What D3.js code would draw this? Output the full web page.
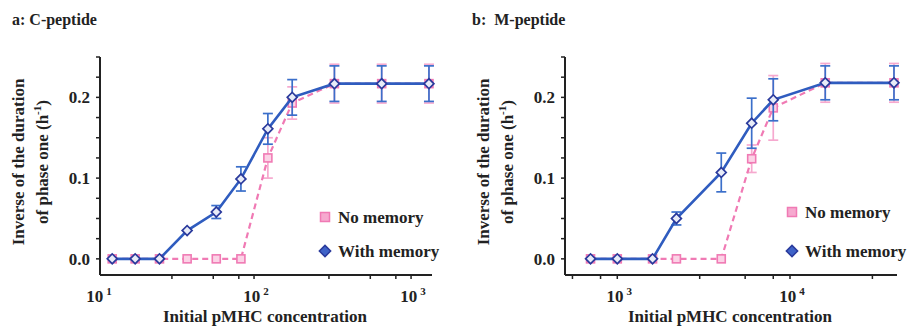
<!DOCTYPE html>
<html>
<head>
<meta charset="utf-8">
<script src="https://cdn.jsdelivr.net/npm/d3@7"></script>
<style>
  body { margin: 0; background: #fff; }
  svg text { font-family: "Liberation Serif", "DejaVu Serif", serif; font-weight: bold; fill: #222; }
</style>
</head>
<body>
<svg id="chart"></svg>
<script>
// ------------------------------------------------------------
// Two log-x panels: inverse duration of phase one vs pMHC.
// ------------------------------------------------------------

// Panel a: C-peptide
const concA = [12.5, 17.5, 25, 37.5, 57.5, 82.5, 122.5, 175, 325, 650, 1300];
const withMemA = [0, 0, 0, 0.035, 0.058, 0.099, 0.161, 0.200, 0.217, 0.217, 0.217];
const withMemErrA = [0, 0, 0, 0.002, 0.008, 0.015, 0.019, 0.022, 0.022, 0.022, 0.022];
const noMemA = [0, 0, 0, 0, 0, 0, 0.125, 0.193, 0.217, 0.217, 0.217];
const noMemErrA = [0, 0, 0, 0, 0, 0, 0.025, 0.02, 0.024, 0.024, 0.024];

// Panel b: M-peptide
const concB = [700, 1000, 1600, 2200, 4000, 6000, 8000, 16000, 40000];
const withMemB = [0, 0, 0, 0.050, 0.107, 0.168, 0.197, 0.218, 0.218];
const withMemErrB = [0, 0, 0, 0.008, 0.024, 0.031, 0.026, 0.021, 0.021];
const noMemB = [0, 0, 0, 0, 0, 0.124, 0.187, 0.218, 0.218];
const noMemErrB = [0, 0, 0, 0, 0, 0.017, 0.04, 0.024, 0.024];

// Tick labels
const yTickLabels = [0, 0.1, 0.2];
const xDecadesA = [1, 2, 3];
const xDecadesB = [3, 4];
const minorMantissa = [3, 5.5, 8];

const width = 909;
const height = 330;

const svg = d3.select("#chart")
  .attr("width", width)
  .attr("height", height);

const blue = "#2f5cbf";
const navy = "#2a3a9c";
const pink = "#f07ab4";
const pinkLight = "#f6a9cf";

// Build one panel.
function drawPanel(opt) {
  const g = svg.append("g");

  const x = d3.scaleLog().domain(opt.xDomain).range([opt.left, opt.right]);
  const y = d3.scaleLinear().domain([-0.02, 0.25]).range([275, 57]);

  // Panel title
  g.append("text")
    .attr("x", opt.titleX)
    .attr("y", 25)
    .attr("font-size", 16)
    .style("white-space", "pre")
    .text(opt.title);

  // Y axis line + ticks (every 0.025, outward)
  g.append("line")
    .attr("x1", opt.left).attr("x2", opt.left)
    .attr("y1", y(0.25)).attr("y2", y(-0.02))
    .attr("stroke", "#222").attr("stroke-width", 2);

  d3.range(0, 0.2501, 0.025).forEach(v => {
    g.append("line")
      .attr("x1", opt.left - 4).attr("x2", opt.left)
      .attr("y1", y(v)).attr("y2", y(v))
      .attr("stroke", "#222").attr("stroke-width", 1.5);
  });

  yTickLabels.forEach(v => {
    g.append("text")
      .attr("x", opt.left - 10)
      .attr("y", y(v) + 6)
      .attr("text-anchor", "end")
      .attr("font-size", 17)
      .text(d3.format(".1f")(v));
  });

  // X axis line + ticks
  g.append("line")
    .attr("x1", opt.left).attr("x2", opt.right + 2)
    .attr("y1", 275).attr("y2", 275)
    .attr("stroke", "#222").attr("stroke-width", 2);

  const [lo, hi] = opt.xDomain;
  const minorTicks = [];
  for (let e = Math.floor(Math.log10(lo)); e <= Math.ceil(Math.log10(hi)); e++) {
    minorTicks.push(Math.pow(10, e));
    minorMantissa.forEach(m => minorTicks.push(m * Math.pow(10, e)));
  }
  minorTicks.filter(v => v > lo && v < hi).forEach(v => {
    g.append("line")
      .attr("x1", x(v)).attr("x2", x(v))
      .attr("y1", 275).attr("y2", 279)
      .attr("stroke", "#222").attr("stroke-width", 1.5);
  });

  opt.decades.forEach(e => {
    const t = g.append("text")
      .attr("x", x(Math.pow(10, e)) + 2)
      .attr("y", 302)
      .attr("text-anchor", "middle")
      .attr("font-size", 17);
    t.append("tspan").text("10");
    t.append("tspan").attr("dx", 3).attr("dy", -7).attr("font-size", 11).text(e);
  });

  // Axis titles
  g.append("text")
    .attr("x", (opt.left + opt.right) / 2)
    .attr("y", 322)
    .attr("text-anchor", "middle")
    .attr("font-size", 17)
    .text("Initial pMHC concentration");

  const yl = g.append("text")
    .attr("transform", `translate(${opt.yLabelX},162) rotate(-90)`)
    .attr("text-anchor", "middle")
    .attr("font-size", 17);
  yl.append("tspan").attr("x", 0).attr("y", 0).text("Inverse of the duration");
  const l2 = yl.append("tspan").attr("x", 0).attr("y", 24);
  l2.append("tspan").text("of phase one (h");
  l2.append("tspan").attr("dy", -7).attr("font-size", 11).text("-1");
  l2.append("tspan").attr("dy", 7).text(")");

  // Series helper
  function series(conc, vals, errs, color, errColor, dashed) {
    const pts = conc.map((c, i) => ({ c: c, v: vals[i], e: errs[i] }));

    // Error bars
    pts.filter(d => d.e > 0.003).forEach(d => {
      const bar = g.append("g")
        .attr("stroke", errColor).attr("stroke-width", 1.7).attr("fill", "none");
      bar.append("line")
        .attr("x1", x(d.c)).attr("x2", x(d.c))
        .attr("y1", y(d.v - d.e)).attr("y2", y(d.v + d.e));
      [d.v - d.e, d.v + d.e].forEach(v => {
        bar.append("line")
          .attr("x1", x(d.c) - 5).attr("x2", x(d.c) + 5)
          .attr("y1", y(v)).attr("y2", y(v));
      });
    });

    // Line
    g.append("path")
      .datum(pts)
      .attr("fill", "none")
      .attr("stroke", color)
      .attr("stroke-width", dashed ? 2.2 : 2.6)
      .attr("stroke-dasharray", dashed ? "6,4" : null)
      .attr("d", d3.line().x(d => x(d.c)).y(d => y(d.v)));

    return pts;
  }

  // No memory (pink, dashed, squares)
  const pinkPts = series(opt.conc, opt.noMem, opt.noMemErr, pink, pinkLight, true);
  g.selectAll(".sq")
    .data(pinkPts)
    .enter()
    .append("rect")
    .attr("x", d => x(d.c) - 4)
    .attr("y", d => y(d.v) - 4)
    .attr("width", 8).attr("height", 8)
    .attr("fill", "#fbd3e6")
    .attr("stroke", pink).attr("stroke-width", 1.6);

  // With memory (blue, solid, diamonds)
  const bluePts = series(opt.conc, opt.withMem, opt.withMemErr, blue, "#3b6fca", false);
  g.selectAll(".dm")
    .data(bluePts)
    .enter()
    .append("path")
    .attr("transform", d => `translate(${x(d.c)},${y(d.v)}) rotate(45)`)
    .attr("d", "M-3.5,-3.5H3.5V3.5H-3.5Z")
    .attr("fill", "#e8ecf8")
    .attr("stroke", navy).attr("stroke-width", 1.7);

  // Legend
  g.append("rect")
    .attr("x", opt.legX - 4.5).attr("y", opt.legY1 - 4.5)
    .attr("width", 9).attr("height", 9)
    .attr("fill", pinkLight).attr("stroke", pink).attr("stroke-width", 1.5);
  g.append("text")
    .attr("x", opt.legX + 13).attr("y", opt.legY1 + 6)
    .attr("font-size", 17)
    .text("No memory");

  g.append("path")
    .attr("transform", `translate(${opt.legX},${opt.legY2}) rotate(45)`)
    .attr("d", "M-4,-4H4V4H-4Z")
    .attr("fill", "#3f63c8")
    .attr("stroke", navy).attr("stroke-width", 1.5);
  g.append("text")
    .attr("x", opt.legX + 13).attr("y", opt.legY2 + 6)
    .attr("font-size", 17)
    .text("With memory");
}

drawPanel({
  title: "a: C-peptide", titleX: 12,
  left: 100, right: 430, xDomain: [10.45, 1320], decades: xDecadesA,
  yLabelX: 24,
  conc: concA, withMem: withMemA, withMemErr: withMemErrA, noMem: noMemA, noMemErr: noMemErrA,
  legX: 325, legY1: 217, legY2: 251
});

drawPanel({
  title: "b:  M-peptide", titleX: 472,
  left: 565, right: 895, xDomain: [498, 40550], decades: xDecadesB,
  yLabelX: 489,
  conc: concB, withMem: withMemB, withMemErr: withMemErrB, noMem: noMemB, noMemErr: noMemErrB,
  legX: 792, legY1: 212, legY2: 251
});
</script>
</body>
</html>
